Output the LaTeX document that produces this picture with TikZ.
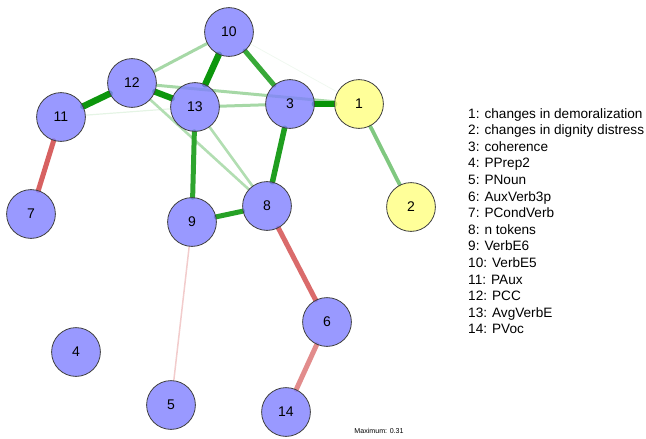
\documentclass[tikz,border=0pt]{standalone}
\usepackage{fontspec}
\setmainfont{Liberation Sans}
\pgfdeclarelayer{bg}
\pgfsetlayers{bg,main}
\definecolor{gbase}{RGB}{0,145,0}
\definecolor{rbase}{RGB}{191,0,0}
\definecolor{bluenode}{RGB}{128,128,255}
\definecolor{yellownode}{RGB}{255,255,128}
\tikzset{
  vnode/.style={circle, minimum size=48.8pt, inner sep=0pt, draw=black!75, line width=0.8pt,
    fill=bluenode, fill opacity=0.8, text opacity=1, font=\fontsize{14}{16}\selectfont},
  ynode/.style={vnode, fill=yellownode},
  edge/.style={line cap=round},
  legtext/.style={anchor=base west, inner sep=0pt, font=\fontsize{13.6}{16}\selectfont},
}
\begin{document}
\begin{tikzpicture}[x=1pt,y=-1pt]
\useasboundingbox (0,0) rectangle (646,439);
% nodes
\node[ynode] (n1) at (359,104) {1};
\node[ynode] (n2) at (411,207) {2};
\node[vnode] (n3) at (290,104) {3};
\node[vnode] (n4) at (76,352) {4};
\node[vnode] (n5) at (171,405) {5};
\node[vnode] (n6) at (327,322) {6};
\node[vnode] (n7) at (31,214) {7};
\node[vnode] (n8) at (267,206) {8};
\node[vnode] (n9) at (192,222) {9};
\node[vnode] (n10) at (229,32) {10};
\node[vnode] (n11) at (61,117) {11};
\node[vnode] (n12) at (132,83) {12};
\node[vnode] (n13) at (195,107) {13};
\node[vnode] (n14) at (286,412) {14};
% edges
\begin{pgfonlayer}{bg}
\draw[edge, line width=0.8pt, gbase!6] (n10) -- (n1);
\draw[edge, line width=1.2pt, gbase!10] (n11) -- (n13);
\draw[edge, line width=1.5pt, rbase!20] (n9) -- (n5);
\draw[edge, line width=2.6pt, gbase!30] (n12) -- (n8);
\draw[edge, line width=2.6pt, gbase!30] (n13) -- (n8);
\draw[edge, line width=3pt, gbase!35] (n12) -- (n10);
\draw[edge, line width=3pt, gbase!35] (n12) -- (n1);
\draw[edge, line width=3pt, gbase!35] (n13) -- (n3);
\draw[edge, line width=3.8pt, gbase!50] (n1) -- (n2);
\draw[edge, line width=5pt, rbase!45] (n6) -- (n14);
\draw[edge, line width=5pt, rbase!58] (n8) -- (n6);
\draw[edge, line width=5pt, rbase!62] (n11) -- (n7);
\draw[edge, line width=5pt, gbase!78] (n10) -- (n3);
\draw[edge, line width=5pt, gbase!82] (n13) -- (n9);
\draw[edge, line width=5pt, gbase!85] (n9) -- (n8);
\draw[edge, line width=5.5pt, gbase!88] (n3) -- (n8);
\draw[edge, line width=6.2pt, gbase!95] (n12) -- (n13);
\draw[edge, line width=6.5pt, gbase!95] (n11) -- (n12);
\draw[edge, line width=6.5pt, gbase!95] (n10) -- (n13);
\draw[edge, line width=6.5pt, gbase!97] (n3) -- (n1);
\end{pgfonlayer}
% legend
\foreach \i/\t in {1/{1: changes in demoralization},2/{2: changes in dignity distress},3/{3: coherence},4/{4: PPrep2},5/{5: PNoun},6/{6: AuxVerb3p},7/{7: PCondVerb},8/{8: n tokens},9/{9: VerbE6},10/{10: VerbE5},11/{11: PAux},12/{12: PCC},13/{13: AvgVerbE},14/{14: PVoc}}{
  \node[legtext] (leg\i) at (468,{118+16.6*(\i-1)}) {\t};
}
\node[font=\fontsize{7.1}{8}\selectfont, inner sep=0pt] (maxlab) at (379,431) {Maximum: 0.31};
\end{tikzpicture}
\end{document}
